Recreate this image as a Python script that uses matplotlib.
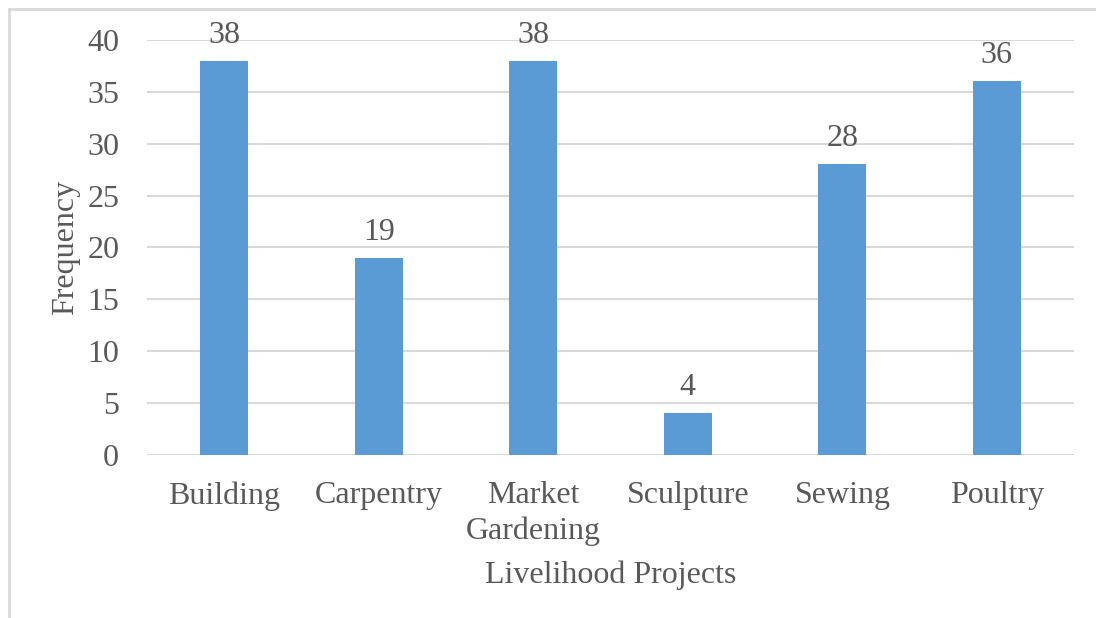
import matplotlib
matplotlib.use("Agg")
import matplotlib.pyplot as plt
from matplotlib.lines import Line2D

categories = ["Building", "Carpentry", "Market\nGardening", "Sculpture", "Sewing", "Poultry"]
frequency = [38, 19, 38, 4, 28, 36]
y_ticks = [0, 5, 10, 15, 20, 25, 30, 35, 40]

plt.rcParams["font.family"] = ["Liberation Serif", "DejaVu Serif"]
text_color = "#595959"
grid_color = "#D9D9D9"
bar_color = "#5B9BD5"
fs = 23

fig = plt.figure(figsize=(10.96, 6.18), dpi=100)
ax = fig.add_axes([0.1341, 0.2638, 0.846, 0.6715])

x = range(len(categories))
bars = ax.bar(x, frequency, width=0.31, color=bar_color, zorder=3)
for rect, v in zip(bars, frequency):
    ax.annotate(str(v), (rect.get_x() + rect.get_width() / 2, v),
                xytext=(0, 8), textcoords="offset points",
                ha="center", va="bottom", fontsize=fs, color=text_color)

ax.set_xlim(-0.5, len(categories) - 0.5)
ax.set_ylim(0, 40)
ax.set_yticks(y_ticks)
ax.set_xticks(list(x))
ax.set_xticklabels(categories, linespacing=1.28)
ax.tick_params(axis="both", length=0, labelsize=fs, labelcolor=text_color)
ax.tick_params(axis="y", pad=20)
ax.tick_params(axis="x", pad=19)
ax.grid(axis="y", color=grid_color, linewidth=1.5, zorder=0)
for s in ax.spines.values():
    s.set_visible(False)

ax.set_ylabel("Frequency", fontsize=fs, color=text_color, labelpad=5)
ax.set_xlabel("Livelihood Projects", fontsize=fs, color=text_color, labelpad=10)

# light frame along the top and left edges of the figure
fig.add_artist(Line2D([9 / 1096, 1], [1 - 9 / 618, 1 - 9 / 618],
                      transform=fig.transFigure, color=grid_color, linewidth=2))
fig.add_artist(Line2D([9 / 1096, 9 / 1096], [0, 1 - 9 / 618],
                      transform=fig.transFigure, color=grid_color, linewidth=2))

fig.savefig("out.png", dpi=100)
